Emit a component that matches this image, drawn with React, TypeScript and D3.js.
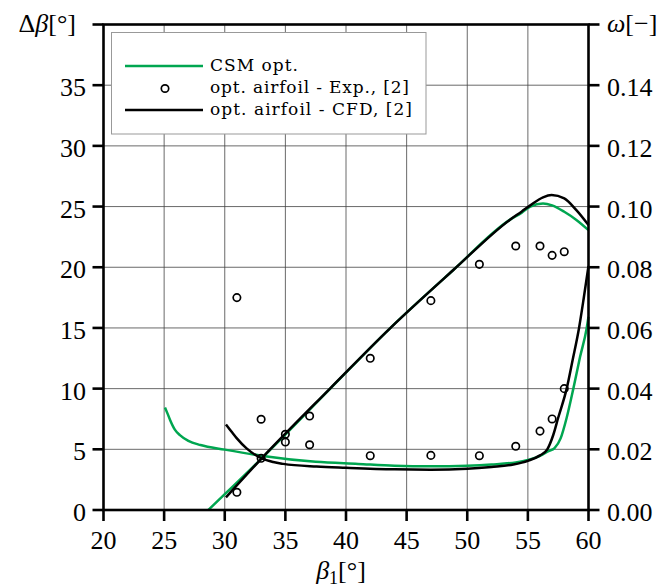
import React, { useRef, useEffect } from 'react';
import * as d3 from 'd3';

// CSM opt. - deflection curve (left axis)
const csmBeta = [28.64, 30, 33.05, 38.7, 43.63, 48.85, 53.5, 54.5, 55.2, 56.25, 57, 58, 59, 60];
const csmDeltaBeta = [0, 1.3, 4.26, 10.0, 14.97, 19.77, 23.9, 24.5, 25.0, 25.26, 25.1, 24.57, 23.9, 23.06];

// CSM opt. - loss curve (right axis)
const csmLossBeta = [25.07, 25.3, 25.5, 25.9, 26.3, 27, 28, 30, 33, 37.5, 41, 44, 47, 50, 52, 54, 55, 56, 56.7, 57.2, 57.7, 58.2, 58.75, 59.3, 59.85, 60];
const csmOmega = [0.0338, 0.0316, 0.0296, 0.0264, 0.0247, 0.0228, 0.0214, 0.0199, 0.0179, 0.0159, 0.0152, 0.0146, 0.0144, 0.0146, 0.015, 0.0157, 0.0165, 0.0178, 0.0194, 0.0204, 0.0236, 0.0304, 0.04, 0.0504, 0.0599, 0.0637];

// opt. airfoil - CFD, [2]
const cfdBeta = [30.1, 33.05, 38.7, 43.63, 48.85, 53.5, 54.5, 55.2, 56.25, 56.96, 58, 59, 60];
const cfdDeltaBeta = [1.04, 4.26, 10.03, 14.97, 19.77, 23.9, 24.6, 25.1, 25.76, 25.95, 25.67, 24.7, 23.47];
const cfdLossBeta = [30.1, 30.6, 31, 31.8, 33.05, 34, 34.83, 37.58, 40, 44, 47, 50, 52, 53.8, 55, 56, 56.6, 57.1, 57.5, 58.2, 58.7, 59.22, 59.6, 60];
const cfdOmega = [0.0282, 0.0256, 0.0236, 0.0203, 0.017, 0.0158, 0.0152, 0.0143, 0.0139, 0.0134, 0.0133, 0.0136, 0.0142, 0.015, 0.0162, 0.018, 0.02, 0.0248, 0.0304, 0.04, 0.0496, 0.06, 0.0696, 0.0804];

// opt. airfoil - Exp., [2]
const expBeta = [31, 33, 35, 37, 42, 47, 51, 54, 56, 57, 58];
const expDeltaBeta = [1.46, 4.26, 6.24, 7.74, 12.5, 17.25, 20.24, 21.75, 21.75, 20.98, 21.28];
const expOmega = [0.07, 0.0299, 0.0224, 0.0215, 0.0179, 0.018, 0.0179, 0.021, 0.026, 0.03, 0.04];

const xTicks = [20, 25, 30, 35, 40, 45, 50, 55, 60];
const leftTicks = [0, 5, 10, 15, 20, 25, 30, 35, 40];
const rightTicks = [0, 0.02, 0.04, 0.06, 0.08, 0.1, 0.12, 0.14, 0.16];
const legendLabels = ['CSM opt.', 'opt. airfoil - Exp., [2]', 'opt. airfoil - CFD, [2]'];

const GREEN = '#00a650';
const FONT = '"Liberation Serif", "DejaVu Serif", serif';

const App = () => {
  const ref = useRef<SVGSVGElement>(null);

  useEffect(() => {
    const svg = d3.select(ref.current);
    svg.selectAll('*').remove();

    const x = d3.scaleLinear().domain([20, 60]).range([103.5, 588.5]);
    const yL = d3.scaleLinear().domain([0, 40]).range([510, 24.5]);
    const yR = d3.scaleLinear().domain([0, 0.16]).range([510, 24.5]);

    // grid
    const grid = svg.append('g').attr('stroke', '#444').attr('stroke-width', 0.8);
    grid.selectAll('line.v')
      .data(xTicks.slice(1, -1))
      .join('line')
      .attr('x1', d => x(d)).attr('x2', d => x(d))
      .attr('y1', yL(0)).attr('y2', yL(40));
    grid.selectAll('line.h')
      .data(leftTicks.slice(1, -1))
      .join('line')
      .attr('x1', x(20)).attr('x2', x(60))
      .attr('y1', d => yL(d)).attr('y2', d => yL(d));

    const deltaLine = (xs: number[]) => d3.line<number>()
      .x((d, i) => x(xs[i]))
      .y(d => yL(d))
      .curve(d3.curveMonotoneX);
    const omegaLine = (xs: number[]) => d3.line<number>()
      .x((d, i) => x(xs[i]))
      .y(d => yR(d))
      .curve(d3.curveMonotoneX);

    const plot = svg.append('g').attr('fill', 'none').attr('stroke-width', 2.5);

    plot.append('path').datum(csmDeltaBeta).attr('d', deltaLine(csmBeta)).attr('stroke', GREEN);
    plot.append('path').datum(csmOmega).attr('d', omegaLine(csmLossBeta)).attr('stroke', GREEN);
    plot.append('path').datum(cfdDeltaBeta).attr('d', deltaLine(cfdBeta)).attr('stroke', '#000');
    plot.append('path').datum(cfdOmega).attr('d', omegaLine(cfdLossBeta)).attr('stroke', '#000');

    const marks = svg.append('g').attr('fill', 'none').attr('stroke', '#000').attr('stroke-width', 1.7);
    marks.selectAll('circle.d')
      .data(expDeltaBeta)
      .join('circle')
      .attr('cx', (d, i) => x(expBeta[i]))
      .attr('cy', d => yL(d))
      .attr('r', 3.7);
    marks.selectAll('circle.w')
      .data(expOmega)
      .join('circle')
      .attr('cx', (d, i) => x(expBeta[i]))
      .attr('cy', d => yR(d))
      .attr('r', 3.7);

    // spines and ticks
    const frame = svg.append('g').attr('stroke', '#000').attr('stroke-width', 2.6);
    frame.append('rect')
      .attr('x', x(20)).attr('y', yL(40))
      .attr('width', x(60) - x(20)).attr('height', yL(0) - yL(40))
      .attr('fill', 'none');
    frame.selectAll('line.xt')
      .data(xTicks)
      .join('line')
      .attr('x1', d => x(d)).attr('x2', d => x(d))
      .attr('y1', yL(0)).attr('y2', yL(0) + 11);
    frame.selectAll('line.lt')
      .data(leftTicks)
      .join('line')
      .attr('x1', x(20) - 11).attr('x2', x(20))
      .attr('y1', d => yL(d)).attr('y2', d => yL(d));
    frame.selectAll('line.rt')
      .data(rightTicks)
      .join('line')
      .attr('x1', x(60)).attr('x2', x(60) + 11)
      .attr('y1', d => yR(d)).attr('y2', d => yR(d));

    const labels = svg.append('g').attr('font-family', FONT).attr('font-size', 26).attr('fill', '#000');
    labels.selectAll('text.xl')
      .data(xTicks)
      .join('text')
      .attr('x', d => x(d)).attr('y', 549)
      .attr('text-anchor', 'middle')
      .text(d => d);
    labels.selectAll('text.ll')
      .data(leftTicks.slice(0, -1))
      .join('text')
      .attr('x', 86).attr('y', d => yL(d)).attr('dy', '0.43em')
      .attr('text-anchor', 'end')
      .text(d => d);
    labels.selectAll('text.rl')
      .data(rightTicks.slice(0, -1))
      .join('text')
      .attr('x', 607).attr('y', d => yR(d)).attr('dy', '0.43em')
      .text(d => d3.format('.2f')(d));

    const t1 = labels.append('text').attr('x', 76).attr('y', 32).attr('text-anchor', 'end');
    t1.append('tspan').text('Δ');
    t1.append('tspan').attr('font-style', 'italic').text('β');
    t1.append('tspan').text('[°]');

    const t2 = labels.append('text').attr('x', 607).attr('y', 32);
    t2.append('tspan').attr('font-style', 'italic').text('ω');
    t2.append('tspan').text('[−]');

    const t3 = labels.append('text').attr('x', 341).attr('y', 579).attr('text-anchor', 'middle');
    t3.append('tspan').attr('font-style', 'italic').text('β');
    t3.append('tspan').attr('font-size', 18).attr('dy', 5).text('1');
    t3.append('tspan').attr('dy', -5).text('[°]');

    // legend
    const lg = svg.append('g');
    lg.append('rect')
      .attr('x', 111.5).attr('y', 32.5).attr('width', 314.5).attr('height', 101.5)
      .attr('fill', '#fff').attr('stroke', '#999').attr('stroke-width', 1);
    const rowY = [66, 88.5, 110];
    const textLen = [88, 199, 202];
    lg.append('line').attr('x1', 125).attr('x2', 203).attr('y1', rowY[0]).attr('y2', rowY[0])
      .attr('stroke', GREEN).attr('stroke-width', 2.5);
    lg.append('circle').attr('cx', 165).attr('cy', rowY[1]).attr('r', 3.7)
      .attr('fill', 'none').attr('stroke', '#000').attr('stroke-width', 1.7);
    lg.append('line').attr('x1', 125).attr('x2', 203).attr('y1', rowY[2]).attr('y2', rowY[2])
      .attr('stroke', '#000').attr('stroke-width', 2.5);
    lg.selectAll('text')
      .data(legendLabels)
      .join('text')
      .attr('x', 210).attr('y', (d, i) => rowY[i] + 4.5)
      .attr('font-family', '"DejaVu Serif", serif').attr('font-size', 17)
      .attr('textLength', (d, i) => textLen[i])
      .attr('lengthAdjust', 'spacing')
      .text(d => d);
  }, []);

  return (
    <svg ref={ref} width={672} height={588} style={{ display: 'block', position: 'absolute', left: 0, top: 0 }} />
  );
};

export default App;
